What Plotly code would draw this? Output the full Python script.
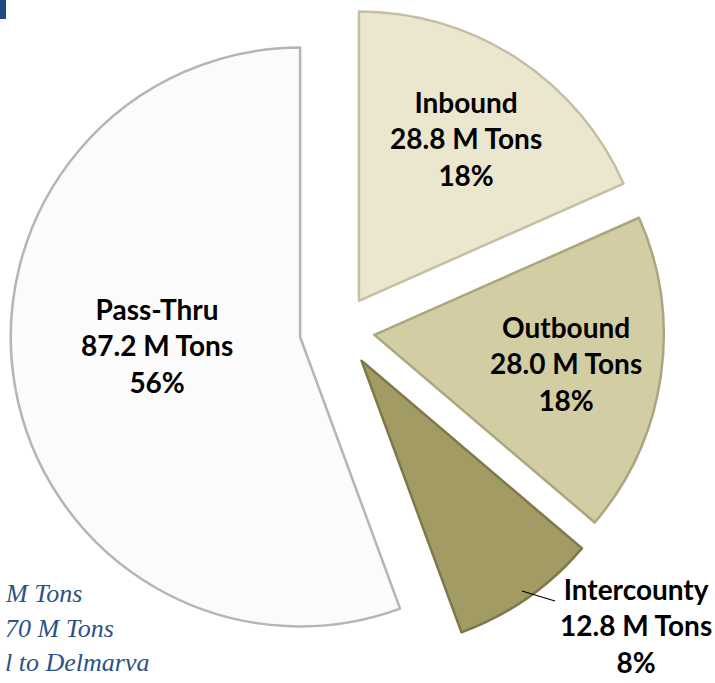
import plotly.graph_objects as go

# ---- data ----
categories = ["Inbound", "Outbound", "Intercounty", "Pass-Thru"]
tons = [28.8, 28.0, 12.8, 87.2]          # million tons
slice_colors = ["#EBE6CE", "#D3CDA3", "#A39B64", "#FBFBFB"]
pulls = [0.12, 0.12, 0.13, 0.14]
side_text = ["M Tons", "70 M Tons", "l to Delmarva"]

W, H = 715, 683
total = sum(tons)
pcts = [round(v / total * 100) for v in tons]

fig = go.Figure()
fig.add_trace(go.Pie(
    labels=categories,
    values=tons,
    sort=False,
    direction="clockwise",
    rotation=0,
    pull=pulls,
    marker=dict(colors=slice_colors,
                line=dict(color=["#C4BFA4", "#ABA67F", "#7F784A", "#B5B5B5"], width=2.5)),
    textinfo="none",
    hoverinfo="label+value+percent",
    showlegend=False,
    domain=dict(x=[0.0133, 0.9378], y=[0.034, 1.0]),
))

def px(x, y):
    return x / W, 1 - y / H

label_font = dict(family="Lato, Noto Sans, sans-serif", size=28, color="#000000")
label_pos = {"Inbound": (466, 139), "Outbound": (566, 363),
             "Pass-Thru": (157, 345), "Intercounty": (636, 625)}
for name, v, p in zip(categories, tons, pcts):
    x, y = px(*label_pos[name])
    fig.add_annotation(
        x=x, y=y, xref="paper", yref="paper",
        text=f"<b>{name}<br>{v:.1f} M Tons<br>{p}%</b>",
        showarrow=False, font=label_font, align="center",
        xanchor="center", yanchor="middle", borderpad=0,
    )

# leader line for Intercounty
x0, y0 = px(522, 591)
x1, y1 = px(555, 601)
fig.add_shape(type="line", xref="paper", yref="paper", x0=x0, y0=y0, x1=x1, y1=y1,
              line=dict(color="#000000", width=1.2))

# cut-off sidebar text
side_y = [593, 628, 662]
for t, yy in zip(side_text, side_y):
    x, y = px(3, yy)
    fig.add_annotation(
        x=x, y=y, xref="paper", yref="paper",
        text=f"<i>{t}</i>", showarrow=False,
        font=dict(family="Liberation Serif, DejaVu Serif, serif", size=26, color="#2C5286"),
        xanchor="left", yanchor="middle",
    )

# corner blue tab
fig.add_shape(type="rect", xref="paper", yref="paper",
              x0=0, x1=6 / W, y0=1 - 19 / H, y1=1,
              fillcolor="#1D4A80", line=dict(width=0))

fig.update_layout(
    width=W, height=H,
    margin=dict(l=0, r=0, t=0, b=0),
    paper_bgcolor="white", plot_bgcolor="white",
)

fig.write_html("out.html")
